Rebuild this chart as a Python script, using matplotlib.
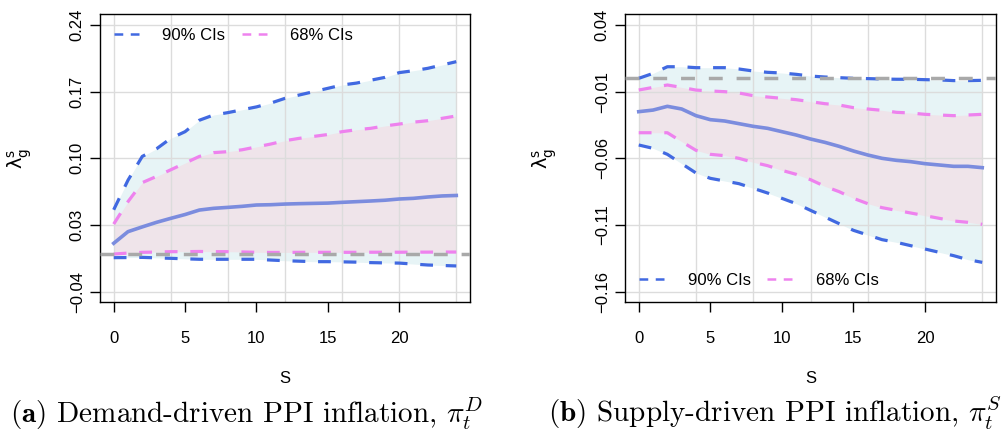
import numpy as np
import matplotlib
matplotlib.use("Agg")
from matplotlib import pyplot as plt
from matplotlib.lines import Line2D

plt.rcParams['font.family'] = ['Liberation Sans', 'DejaVu Sans']

# horizon
s = np.arange(0, 25)

# (a) demand-driven PPI inflation
dem_med = [0.0108, 0.023, 0.028, 0.0328, 0.037, 0.041, 0.0457, 0.0475, 0.0485, 0.0496,
           0.051, 0.0513, 0.052, 0.0524, 0.0527, 0.053, 0.0538, 0.0545, 0.0552, 0.056,
           0.0573, 0.058, 0.0594, 0.0605, 0.061]
dem_up90 = [0.046, 0.077, 0.102, 0.11, 0.121, 0.128, 0.140, 0.1455, 0.148, 0.151,
            0.154, 0.158, 0.163, 0.1665, 0.170, 0.1735, 0.177, 0.179, 0.182, 0.185,
            0.190, 0.192, 0.1945, 0.198, 0.2015]
dem_lo90 = [-0.0043, -0.0042, -0.004, -0.0045, -0.005, -0.0055, -0.006, -0.006, -0.006, -0.006,
            -0.006, -0.0068, -0.0075, -0.008, -0.0085, -0.0085, -0.0087, -0.009, -0.0095, -0.0098,
            -0.010, -0.011, -0.012, -0.0125, -0.013]
dem_up68 = [0.031, 0.0545, 0.0745, 0.081, 0.088, 0.095, 0.102, 0.106, 0.107, 0.109,
            0.112, 0.115, 0.1185, 0.121, 0.123, 0.125, 0.128, 0.130, 0.1315, 0.134,
            0.136, 0.138, 0.1395, 0.142, 0.1445]
dem_lo68 = [-0.0005, 0.0005, 0.0013, 0.0016, 0.002, 0.002, 0.0022, 0.002, 0.002, 0.0017,
            0.0013, 0.0012, 0.0012, 0.0013, 0.0013, 0.0013, 0.0013, 0.0013, 0.0014, 0.0014,
            0.0014, 0.0015, 0.0015, 0.0016, 0.0016]

# (b) supply-driven PPI inflation
sup_med = [-0.025, -0.0238, -0.021, -0.023, -0.028, -0.031, -0.032, -0.034, -0.036, -0.0375,
           -0.040, -0.0425, -0.0455, -0.048, -0.051, -0.0545, -0.0575, -0.060, -0.0615, -0.0625,
           -0.064, -0.065, -0.066, -0.066, -0.067]
sup_up90 = [0.0, 0.0037, 0.0087, 0.0087, 0.008, 0.008, 0.008, 0.007, 0.0055, 0.0045,
            0.004, 0.003, 0.0017, 0.001, 0.0005, 0.0, -0.0002, -0.0005, -0.0007, -0.0007,
            -0.001, -0.0012, -0.0017, -0.0017, -0.0015]
sup_lo90 = [-0.050, -0.0525, -0.057, -0.064, -0.071, -0.075, -0.077, -0.079, -0.0825, -0.086,
            -0.090, -0.094, -0.099, -0.104, -0.109, -0.114, -0.1175, -0.121, -0.123, -0.1255,
            -0.128, -0.1305, -0.133, -0.136, -0.138]
sup_up68 = [-0.00875, -0.0068, -0.005, -0.0068, -0.0088, -0.0095, -0.010, -0.011, -0.013, -0.014,
            -0.015, -0.016, -0.0175, -0.019, -0.020, -0.022, -0.023, -0.024, -0.0255, -0.026,
            -0.027, -0.0275, -0.028, -0.0275, -0.027]
sup_lo68 = [-0.0408, -0.0408, -0.0408, -0.0475, -0.054, -0.057, -0.058, -0.060, -0.063, -0.0655,
            -0.069, -0.072, -0.076, -0.081, -0.085, -0.090, -0.094, -0.097, -0.099, -0.101,
            -0.103, -0.105, -0.107, -0.108, -0.1095]

dem_yticks = [-0.04, 0.03, 0.10, 0.17, 0.24]
sup_yticks = [-0.16, -0.11, -0.06, -0.01, 0.04]
xticks = [0, 5, 10, 15, 20]
captions = [r'$\mathbf{(a)}$ Demand-driven PPI inflation, $\pi_t^D$',
            r'$\mathbf{(b)}$ Supply-driven PPI inflation, $\pi_t^S$']

fig = plt.figure(figsize=(10.07, 4.32), dpi=100)
W, H = 1007, 432
ax1 = fig.add_axes([100 / W, (H - 302) / H, 370 / W, 288 / H])
ax2 = fig.add_axes([625 / W, (H - 302) / H, 371 / W, 288 / H])

blue = '#4169E1'
pink = '#EE82EE'
dash = (4, 4)

panels = [
    (ax1, dem_med, dem_up90, dem_lo90, dem_up68, dem_lo68, dem_yticks, 'upper left'),
    (ax2, sup_med, sup_up90, sup_lo90, sup_up68, sup_lo68, sup_yticks, 'lower left'),
]

for i, (ax, med, u90, l90, u68, l68, yt, legloc) in enumerate(panels):
    step = yt[1] - yt[0]
    ax.set_xlim(-0.96, 24.96)
    ax.set_ylim(yt[0] - step * 0.155, yt[-1] + step * 0.165)

    for gx in range(0, 25, 4):
        ax.axvline(gx, color='#DCDCDC', lw=1, zorder=2)
    for gy in yt:
        ax.axhline(gy, color='#DCDCDC', lw=1, zorder=2)

    ax.fill_between(s, l90, u90, color='#E7F4F6', lw=0, zorder=1)
    ax.fill_between(s, l68, u68, color='#EFE4EA', lw=0, zorder=1.5)

    ax.plot(s, med, color='#7B8CDE', lw=2.6, zorder=3)
    ax.plot(s, u90, color=blue, lw=2.3, dashes=dash, zorder=3)
    ax.plot(s, l90, color=blue, lw=2.3, dashes=dash, zorder=3)
    ax.plot(s, u68, color=pink, lw=2.3, dashes=dash, zorder=3)
    ax.plot(s, l68, color=pink, lw=2.3, dashes=dash, zorder=3)
    ax.axhline(0, color='#A9A9A9', lw=2.5, dashes=dash, zorder=4)

    ax.set_xticks(xticks)
    ax.set_yticks(yt)
    ax.set_yticklabels([('%.2f' % v).replace('-', '\u2212') for v in yt],
                       rotation=90, va='center')
    ax.tick_params(axis='both', direction='out', length=7, width=1, labelsize=12)
    ax.tick_params(axis='y', pad=4)
    ax.tick_params(axis='x', pad=14)
    for sp in ax.spines.values():
        sp.set_linewidth(1)

    ax.set_xlabel('S', fontsize=12, labelpad=18)
    ax.set_ylabel(r'$\mathrm{\lambda}_\mathrm{g}^\mathrm{s}$', fontsize=14, labelpad=26,
                  math_fontfamily='dejavusans')

    handles = [Line2D([], [], color=blue, lw=1.8, dashes=(3.5, 3)),
               Line2D([], [], color=pink, lw=1.8, dashes=(3.5, 3))]
    ax.legend(handles, ['90% CIs', '68% CIs'], loc=legloc, ncol=2, frameon=False,
              fontsize=12, handlelength=1.5, handletextpad=1.4, columnspacing=1.0,
              borderaxespad=0.45)

fig.text(247 / W, 9 / H, captions[0], ha='center', va='baseline',
         fontsize=21, family='cmr10', math_fontfamily='cm')
fig.text(775 / W, 9 / H, captions[1], ha='center', va='baseline',
         fontsize=21, family='cmr10', math_fontfamily='cm')

fig.savefig('out.png', dpi=100)
